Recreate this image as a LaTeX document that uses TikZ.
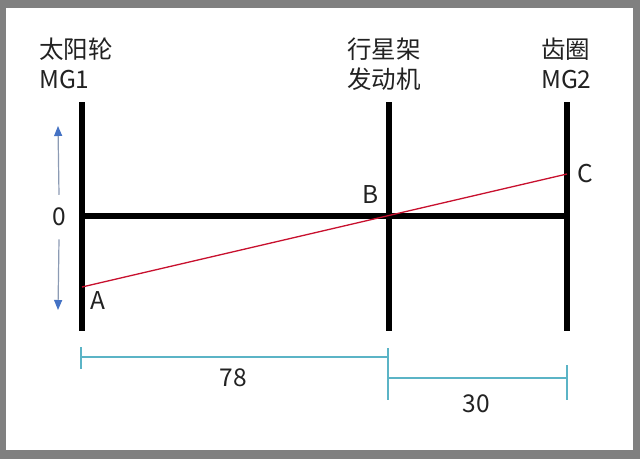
\documentclass[tikz,border=0pt]{standalone}
\usepackage{fontspec}
\setmainfont{Noto Sans CJK SC}
\usetikzlibrary{arrows.meta}
\definecolor{rodred}{HTML}{C8102E}
\definecolor{dimteal}{HTML}{5BB4C6}
\definecolor{arrblue}{HTML}{4472C4}
\definecolor{arrgray}{HTML}{8C9BB4}
\definecolor{framegray}{HTML}{808080}
\definecolor{txt}{HTML}{222222}

\begin{document}
\begin{tikzpicture}[x=1pt,y=-1pt,
    rod/.style={line width=6pt},
    dim/.style={dimteal,line width=1.3pt},
    lbl/.style={inner sep=0pt,text=txt,font=\fontsize{24.5}{30}\selectfont},
    vel/.style={arrgray,line width=1.2pt,-{Triangle[length=10pt,width=8pt,color=arrblue]}}]
    % frame
    \fill[framegray] (0,0) rectangle (640,459);
    \fill[white] (6,8) rectangle (633,450);
    \useasboundingbox (0,0) rectangle (640,459);

    \node[lbl,anchor=base west] (sun) at (39,58) {太阳轮};
    \node[lbl,anchor=base west] (sunmg) at (39,88) {MG1};
    \node[lbl,anchor=base west] (car) at (347,58) {行星架};
    \node[lbl,anchor=base west] (carmg) at (347,88) {发动机};
    \node[lbl,anchor=base west] (ring) at (541,58) {齿圈};
    \node[lbl,anchor=base west] (ringmg) at (541,88) {MG2};

    \coordinate (1) at (82,102);
    \coordinate (1x) at (82,331);
    \coordinate (2) at (389,102);
    \coordinate (2x) at (389,331);
    \coordinate (3) at (567,102);
    \coordinate (3x) at (567,331);
    \coordinate (h1) at (82,216);
    \coordinate (h3) at (567,216);
    \coordinate (a) at (82,287);
    \coordinate (c) at (567,174);

    \draw[rod] (1) -- (1x);
    \draw[rod] (2) -- (2x);
    \draw[rod] (3) -- (3x);
    \draw[rod] (h1) -- (h3);
    \draw[rodred,line width=1.3pt] (a) -- (c);

    \node[lbl] (A) at (98,301) {A};
    \node[lbl] (B) at (371,195) {B};
    \node[lbl] (C) at (585,174) {C};
    \node[lbl] (zero) at (59,217) {0};

    \coordinate (up) at (58,126);
    \coordinate (dn) at (58,310);
    \draw[vel] (zero.north) ++(0,-13) -- (up);
    \draw[vel] (zero.south) ++(0,13) -- (dn);

   \begin{scope}[dim]
    \coordinate (d1) at (81,357);
    \coordinate (d2) at (388,357);
    \coordinate (e2) at (388,378);
    \coordinate (e3) at (567,378);
    \draw (d1) -- (d2);
    \draw (81,347) -- (81,369);
    \draw (388,348) -- (388,400);
    \draw (e2) -- (e3);
    \draw (567,365) -- (567,400);
   \end{scope}
    \node[lbl] (n78) at (233,378) {78};
    \node[lbl] (n30) at (476,404) {30};
\end{tikzpicture}
\end{document}
